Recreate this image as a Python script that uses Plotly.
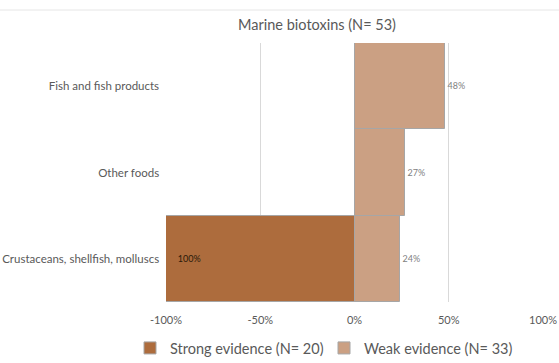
import plotly.graph_objects as go

categories = ["Crustaceans, shellfish, molluscs", "Other foods", "Fish and fish products"]
strong_values = [-100, 0, 0]
weak_values = [24, 27, 48]
tick_vals = [-100, -50, 0, 50, 100]
tick_text = ["-100%", "-50%", "0%", "50%", "100%"]

strong_text = [f"    {abs(v)}%" if v != 0 else "" for v in strong_values]
weak_text = [f"{v}%" for v in weak_values]

FONT = "Lato, Open Sans, sans-serif"

fig = go.Figure()
fig.add_trace(go.Bar(
    y=categories, x=strong_values, orientation="h",
    name="Strong evidence (N= 20)",
    marker=dict(color="#AD6C3D", line=dict(color="#a6a6a6", width=1)),
    text=strong_text, textposition="inside", insidetextanchor="end",
    textfont=dict(color="#2a1a0a", size=9, family=FONT),
    hoverinfo="skip",
))
fig.add_trace(go.Bar(
    y=categories, x=weak_values, orientation="h",
    name="Weak evidence (N= 33)",
    marker=dict(color="#CBA083", line=dict(color="#a6a6a6", width=1)),
    text=weak_text, textposition="outside",
    textfont=dict(color="#7f7f7f", size=9, family=FONT),
    cliponaxis=False,
    hoverinfo="skip",
))

fig.update_layout(
    width=559, height=363,
    margin=dict(l=166, r=16, t=43, b=61, autoexpand=False),
    paper_bgcolor="white", plot_bgcolor="white",
    barmode="relative", bargap=0,
    title=dict(text="Marine biotoxins (N= 53)", x=317 / 559, xanchor="center",
               y=1 - 25 / 363, yanchor="middle",
               font=dict(size=14.5, color="#595959", family=FONT)),
    font=dict(family=FONT, color="#595959"),
    xaxis=dict(range=[-100, 100], tickvals=tick_vals, ticktext=tick_text,
               showgrid=True, gridcolor="#d9d9d9", gridwidth=1,
               zeroline=False, showline=False, automargin=False,
               ticklabelstandoff=10,
               tickfont=dict(size=11, color="#595959", family=FONT), ticks="", fixedrange=True),
    yaxis=dict(showgrid=False, zeroline=False, showline=False, ticks="", automargin=False,
               tickfont=dict(size=11.5, color="#595959", family=FONT), ticksuffix="  ",
               fixedrange=True),
    legend=dict(orientation="h", x=(130 - 166) / 377, xanchor="left", y=-46 / 259, yanchor="middle",
                font=dict(size=14.5, color="#595959", family=FONT), traceorder="normal",
                itemwidth=30, entrywidth=149, entrywidthmode="pixels"),
    uniformtext=dict(minsize=8),
    shapes=[dict(type="line", xref="paper", yref="paper", x0=-166/377, x1=(559-166)/377,
                 y0=1 + 33/259, y1=1 + 33/259, line=dict(color="#e6e6e6", width=1))],
)

fig.write_html("out.html", config={"displayModeBar": False},
               post_script="document.body.style.margin='0';document.body.style.overflow='hidden';")
